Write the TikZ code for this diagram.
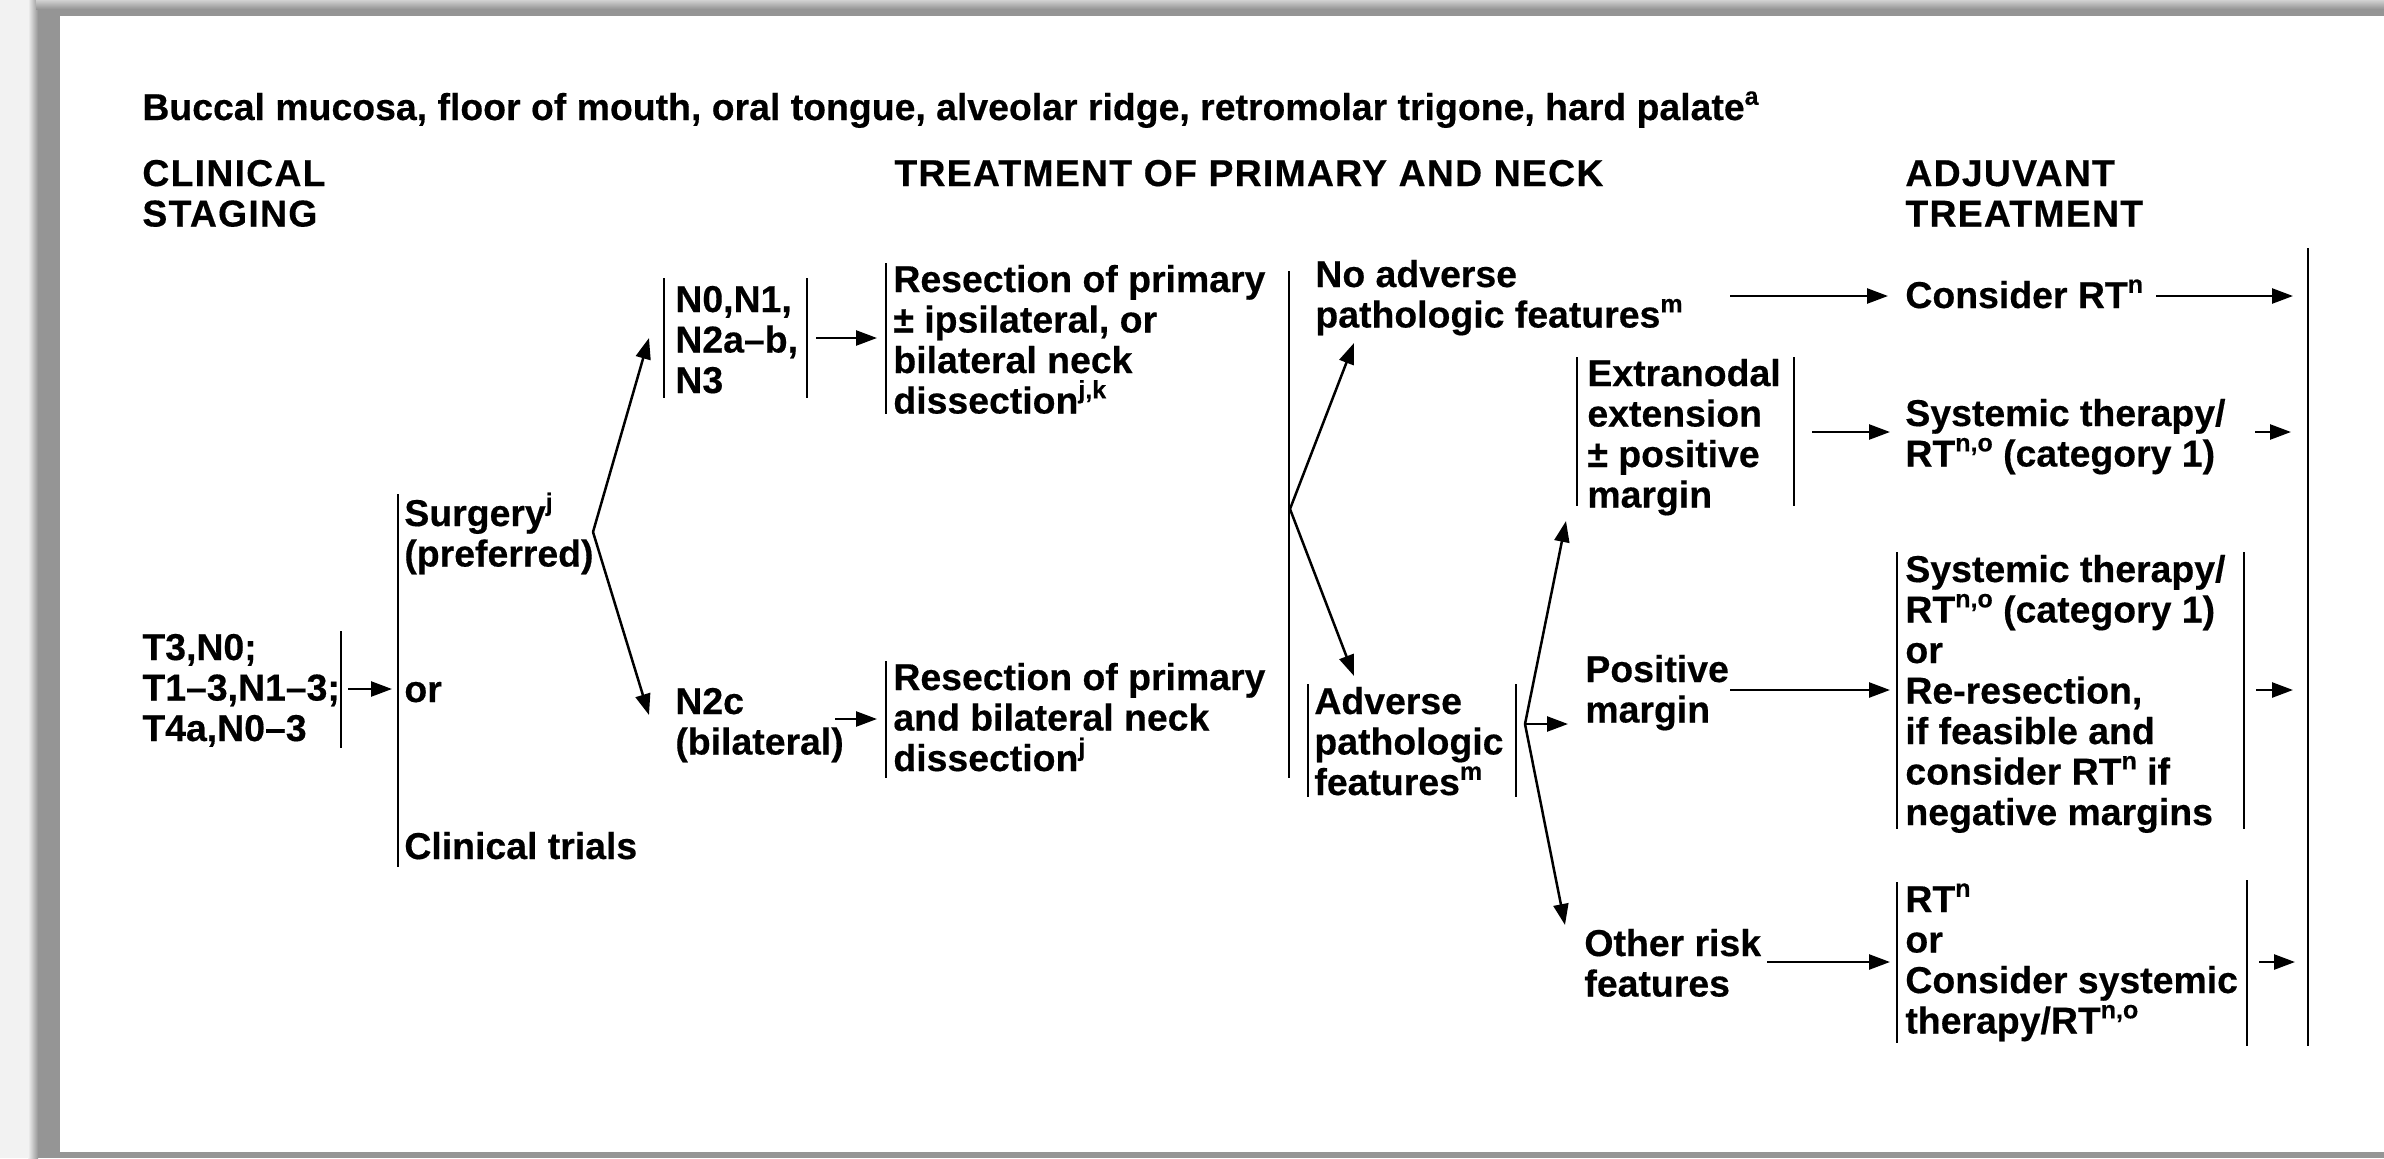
\documentclass[tikz,border=0pt]{standalone}
\usepackage{fontspec}
\setmainfont{Liberation Sans}
\usetikzlibrary{arrows.meta}
\newcommand\lns[1]{\begin{tabular}[t]{@{}l@{}}#1\end{tabular}}
\newcommand\spr[1]{\smash{\raisebox{7.6pt}{\fontsize{12.5}{12.5}\selectfont #1}}}
\newcommand\hdg[1]{{\addfontfeature{LetterSpace=3.3}\lns{#1}}}
\definecolor{pagegray}{HTML}{959595}
\definecolor{outergray}{HTML}{F2F2F2}
\begin{document}
\begin{tikzpicture}[x=0.5pt,y=-0.5pt,
  txt/.style={anchor=base west, inner sep=0pt, font=\bfseries\fontsize{18.7}{20.25}\selectfont\addfontfeature{FakeBold=0.4}},
  bar/.style={line width=1.4pt},
  arr/.style={-{Triangle[length=10.5pt,width=7.5pt]}, line width=1.25pt}]
\useasboundingbox (0,0) rectangle (2384,1158);
% background
\fill[outergray] (0,0) rectangle (2384,1158);
\fill[pagegray] (36,0) rectangle (2384,1158);
\shade[left color=outergray,right color=pagegray] (28,0) rectangle (38,1158);
\shade[top color=black!18,bottom color=pagegray] (36,0) rectangle (2384,9);
\fill[white] (60,16) rectangle (2384,1152);

% headings
\node[txt] (title) at (142,120) {\lns{Buccal mucosa, floor of mouth, oral tongue, alveolar ridge, retromolar trigone, hard palate\spr{a}}};
\node[txt] (hstage) at (142,186) {\hdg{CLINICAL\\STAGING}};
\node[txt] (htreat) at (894,186) {\hdg{TREATMENT OF PRIMARY AND NECK}};
\node[txt] (hadj) at (1905,186) {\hdg{ADJUVANT\\TREATMENT}};

% clinical staging
\node[txt] (stage) at (142,660) {\lns{T3,N0;\\T1–3,N1–3;\\T4a,N0–3}};
\draw[bar] (341,631) -- (341,748);
\coordinate (a1s) at (348,689); \coordinate (a1e) at (392,689);
\draw[arr] (a1s) -- (a1e);

% options
\draw[bar] (398,494) -- (398,867);
\node[txt] (surg) at (404,526) {\lns{Surgery\spr{j}\\(preferred)}};
\node[txt] (or1) at (404,702) {\lns{or}};
\node[txt] (trials) at (404,859) {\lns{Clinical trials}};

\coordinate (f1) at (593,532);
\coordinate (f1u) at (649,338);
\coordinate (f1d) at (649,715);
\draw[arr] (f1) -- (f1u);
\draw[arr] (f1) -- (f1d);

% N nodes
\draw[bar] (664,278) -- (664,398);
\draw[bar] (807,278) -- (807,398);
\node[txt] (n0) at (675,312) {\lns{N0,N1,\\N2a–b,\\N3}};
\node[txt] (n2c) at (675,714) {\lns{N2c\\(bilateral)}};
\coordinate (a4s) at (816,338); \coordinate (a4e) at (877,338);
\draw[arr] (a4s) -- (a4e);
\coordinate (a5s) at (835,719); \coordinate (a5e) at (877,719);
\draw[arr] (a5s) -- (a5e);

% resections
\draw[bar] (886,263) -- (886,414);
\node[txt] (res1) at (893,292) {\lns{Resection of primary\\± ipsilateral, or\\bilateral neck\\dissection\spr{j,k}}};
\draw[bar] (886,661) -- (886,778);
\node[txt] (res2) at (893,690) {\lns{Resection of primary\\and bilateral neck\\dissection\spr{j}}};

% pathology
\draw[bar] (1289,271) -- (1289,778);
\coordinate (f2) at (1290,509);
\coordinate (f2u) at (1354,343);
\coordinate (f2d) at (1354,676);
\draw[arr] (f2) -- (f2u);
\draw[arr] (f2) -- (f2d);
\node[txt] (noadv) at (1315,287) {\lns{No adverse\\pathologic features\spr{m}}};
\draw[bar] (1308,684) -- (1308,797);
\draw[bar] (1516,684) -- (1516,797);
\node[txt] (adv) at (1314,714) {\lns{Adverse\\pathologic\\features\spr{m}}};

% adverse features
\coordinate (f3) at (1525,724);
\coordinate (f3u) at (1566,521);
\coordinate (f3m) at (1568,724);
\coordinate (f3d) at (1565,925);
\draw[arr] (f3) -- (f3u);
\draw[arr] (f3) -- (f3m);
\draw[arr] (f3) -- (f3d);
\draw[bar] (1577,357) -- (1577,506);
\draw[bar] (1794,357) -- (1794,506);
\node[txt] (extra) at (1587,386) {\lns{Extranodal\\extension\\± positive\\margin}};
\node[txt] (pos) at (1585,682) {\lns{Positive\\margin}};
\node[txt] (other) at (1584,956) {\lns{Other risk\\features}};

% adjuvant
\node[txt] (cons) at (1905,308) {\lns{Consider RT\spr{n}}};
\node[txt] (sys1) at (1905,426) {\lns{Systemic therapy/\\RT\spr{n,o} (category 1)}};
\draw[bar] (1897,552) -- (1897,829);
\draw[bar] (2244,552) -- (2244,829);
\node[txt] (boxp) at (1905,582) {\lns{Systemic therapy/\\RT\spr{n,o} (category 1)\\or\\Re-resection,\\if feasible and\\consider RT\spr{n} if\\negative margins}};
\draw[bar] (1897,882) -- (1897,1043);
\draw[bar] (2247,880) -- (2247,1046);
\node[txt] (boxo) at (1905,912) {\lns{RT\spr{n}\\or\\Consider systemic\\therapy/RT\spr{n,o}}};
\draw[bar] (2308,248) -- (2308,1046);

\coordinate (a8s) at (1730,296); \coordinate (a8e) at (1888,296);
\draw[arr] (a8s) -- (a8e);
\coordinate (a9s) at (2156,296); \coordinate (a9e) at (2293,296);
\draw[arr] (a9s) -- (a9e);
\coordinate (a13s) at (1812,432); \coordinate (a13e) at (1890,432);
\draw[arr] (a13s) -- (a13e);
\coordinate (a14s) at (2255,432); \coordinate (a14e) at (2291,432);
\draw[arr] (a14s) -- (a14e);
\coordinate (a15s) at (1730,690); \coordinate (a15e) at (1890,690);
\draw[arr] (a15s) -- (a15e);
\coordinate (a16s) at (2256,690); \coordinate (a16e) at (2293,690);
\draw[arr] (a16s) -- (a16e);
\coordinate (a17s) at (1767,962); \coordinate (a17e) at (1890,962);
\draw[arr] (a17s) -- (a17e);
\coordinate (a18s) at (2259,962); \coordinate (a18e) at (2295,962);
\draw[arr] (a18s) -- (a18e);
\end{tikzpicture}
\end{document}
